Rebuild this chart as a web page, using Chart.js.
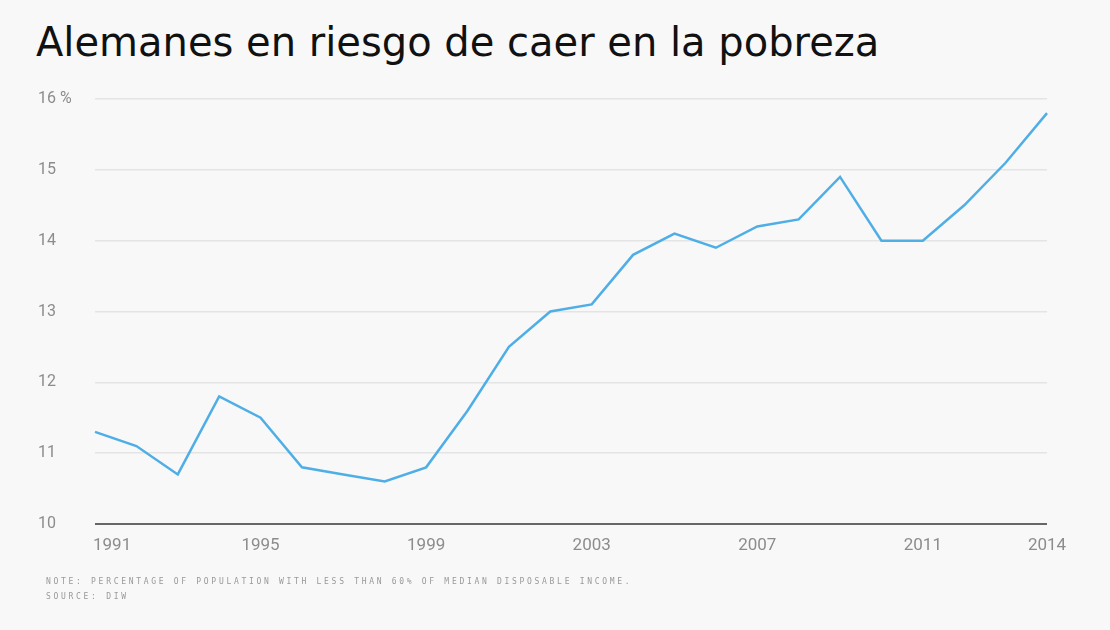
<!DOCTYPE html>
<html>
<head>
<meta charset="utf-8">
<script src="https://cdn.jsdelivr.net/npm/chart.js@4/dist/chart.umd.min.js"></script>
<style>
  html, body { margin: 0; padding: 0; background: #f8f8f8; }
  #wrap { position: relative; width: 1110px; height: 630px; overflow: hidden; }
  #title {
    position: absolute; left: 36px; top: 19px; margin: 0;
    font: 40px "DejaVu Sans", sans-serif; color: #111; white-space: nowrap;
  }
  #notes {
    position: absolute; left: 46px; top: 574px;
    font: 8px "DejaVu Sans Mono", monospace; color: #999;
    letter-spacing: 2.7px; line-height: 15px; white-space: nowrap;
  }
  canvas { position: absolute; left: 0; top: 0; }
</style>
</head>
<body>
<div id="wrap">
  <h1 id="title">Alemanes en riesgo de caer en la pobreza</h1>
  <canvas id="povertyChart" width="1110" height="630"></canvas>
  <div id="notes">NOTE: PERCENTAGE OF POPULATION WITH LESS THAN 60% OF MEDIAN DISPOSABLE INCOME.<br>SOURCE: DIW</div>
</div>
<script>
// Data
const years = ["1991","1992","1993","1994","1995","1996","1997","1998","1999","2000","2001","2002",
               "2003","2004","2005","2006","2007","2008","2009","2010","2011","2012","2013","2014"];
const povertyRate = [11.3, 11.1, 10.7, 11.8, 11.5, 10.8, 10.7, 10.6, 10.8, 11.6, 12.5, 13.0,
                     13.1, 13.8, 14.1, 13.9, 14.2, 14.3, 14.9, 14.0, 14.0, 14.5, 15.1, 15.8];
const shownYears = ["1991", "1995", "1999", "2003", "2007", "2011", "2014"];
const yTicks = [10, 11, 12, 13, 14, 15, 16];

const tickFont = '17px "Roboto", sans-serif';

// Year labels under the axis (first one left aligned, others centred)
const yearLabels = {
  id: "yearLabels",
  afterDraw(chart) {
    const ctx = chart.ctx;
    const xs = chart.scales.x;
    const bottom = chart.chartArea.bottom;
    ctx.save();
    ctx.font = tickFont;
    ctx.fillStyle = "#8c8c8c";
    ctx.textBaseline = "middle";
    shownYears.forEach((y, i) => {
      const px = xs.getPixelForValue(years.indexOf(y));
      ctx.textAlign = i === 0 ? "left" : "center";
      ctx.fillText(y, i === 0 ? px - 2 : px, bottom + 22);
    });
    ctx.restore();
  }
};

new Chart(document.getElementById("povertyChart"), {
  type: "line",
  data: {
    labels: years,
    datasets: [{
      data: povertyRate,
      borderColor: "#4faee6",
      borderWidth: 2.5,
      pointRadius: 0,
      tension: 0,
      fill: false
    }]
  },
  options: {
    responsive: false,
    animation: false,
    layout: { padding: { left: 38, right: 63, top: 99, bottom: 106 } },
    plugins: { legend: { display: false }, tooltip: { enabled: false } },
    scales: {
      x: {
        offset: false,
        grid: { display: false },
        border: { display: false },
        ticks: { display: false },
        afterFit(s) { s.height = 0; }
      },
      y: {
        min: 10,
        max: 16,
        afterBuildTicks(s) { s.ticks = yTicks.map(v => ({ value: v })); },
        afterFit(s) { s.width = 57; },
        border: { display: false },
        grid: {
          drawTicks: false,
          color: c => c.tick && c.tick.value === 10 ? "#666666" : "#e4e4e4",
          lineWidth: c => c.tick && c.tick.value === 10 ? 2 : 1.5
        },
        ticks: {
          crossAlign: "far",
          padding: 0,
          color: "#8c8c8c",
          font: { family: "Roboto", size: 16 },
          callback: v => v === 16 ? "16 %" : String(v)
        }
      }
    }
  },
  plugins: [yearLabels]
});
</script>
</body>
</html>
